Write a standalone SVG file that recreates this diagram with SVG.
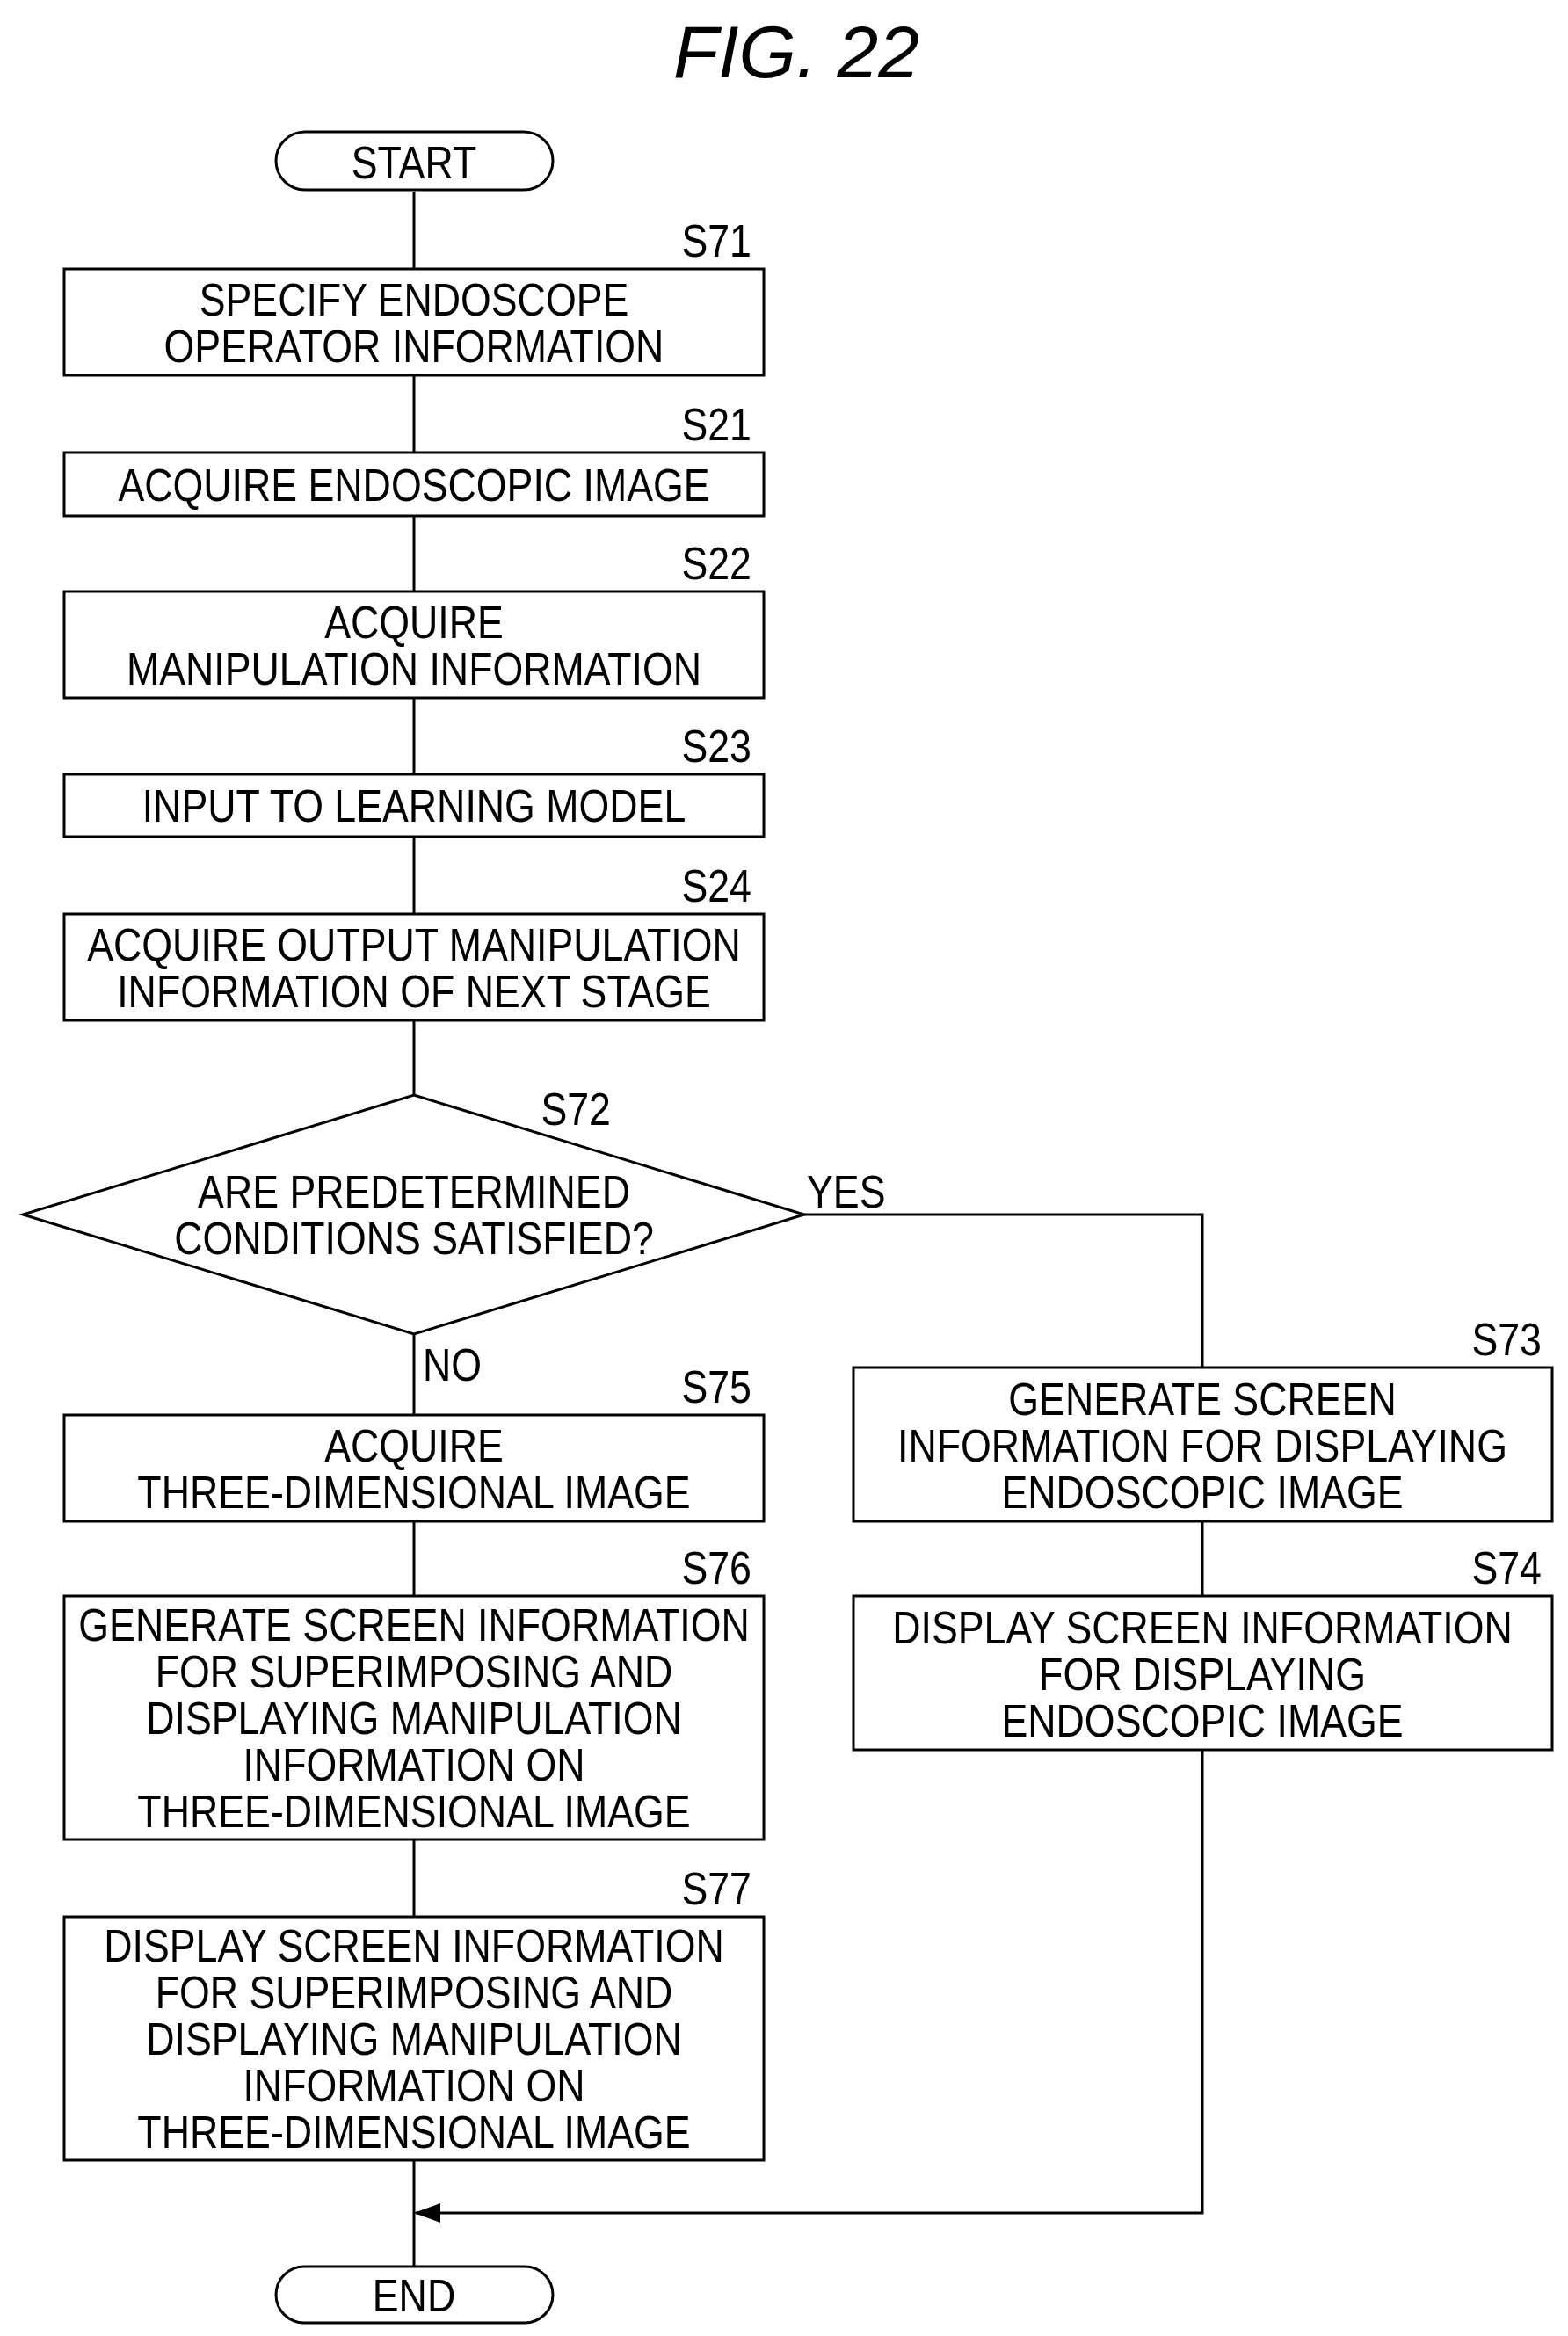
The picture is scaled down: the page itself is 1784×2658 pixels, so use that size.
<svg xmlns="http://www.w3.org/2000/svg" width="1784" height="2658" viewBox="0 0 1784 2658">
<style>
.b{fill:#fff;stroke:#000;stroke-width:3}
.c{fill:none;stroke:#000;stroke-width:3}
text{font-family:"Liberation Sans",Arial,sans-serif;font-size:52px;fill:#000}
.t{text-anchor:middle}
.s{text-anchor:end}
</style>
<defs><marker id="ah" markerWidth="14" markerHeight="10" refX="13" refY="5" orient="auto" markerUnits="userSpaceOnUse"><path d="M0,0 L14,5 L0,10 Z" fill="#000"/></marker></defs>
<rect width="1784" height="2658" fill="#fff"/>
<text x="906" y="88" class="t" style="font-size:84px;font-style:italic">FIG. 22</text>
<g id="connectors">
<path class="c" d="M471,218 V306 M471,427 V515 M471,587 V673 M471,794 V881 M471,952 V1040 M471,1161 V1246 M471,1518 V1610 M471,1731 V1816 M471,2093 V2181 M471,2458 V2579"/>
<path class="c" d="M915,1382 H1368 V1556 M1368,1731 V1816"/>
<path class="c" d="M1368,1991 V2518 H473" marker-end="url(#ah)"/>
<path d="M471,2518 L501,2507 L501,2529 Z" fill="#000"/>
</g>
<g id="start"><rect class="b" x="314" y="150" width="315" height="66" rx="33"/><text class="t" transform="translate(471,203) scale(0.86,1)">START</text></g>
<g id="s71"><rect class="b" x="73" y="306" width="796" height="121"/><text class="s" transform="translate(855,292) scale(0.86,1)">S71</text><text class="t" transform="translate(471,359) scale(0.86,1)">SPECIFY ENDOSCOPE</text><text class="t" transform="translate(471,412) scale(0.86,1)">OPERATOR INFORMATION</text></g>
<g id="s21"><rect class="b" x="73" y="515" width="796" height="72"/><text class="s" transform="translate(855,501) scale(0.86,1)">S21</text><text class="t" transform="translate(471,570) scale(0.86,1)">ACQUIRE ENDOSCOPIC IMAGE</text></g>
<g id="s22"><rect class="b" x="73" y="673" width="796" height="121"/><text class="s" transform="translate(855,659) scale(0.86,1)">S22</text><text class="t" transform="translate(471,726) scale(0.86,1)">ACQUIRE</text><text class="t" transform="translate(471,779) scale(0.86,1)">MANIPULATION INFORMATION</text></g>
<g id="s23"><rect class="b" x="73" y="881" width="796" height="71"/><text class="s" transform="translate(855,867) scale(0.86,1)">S23</text><text class="t" transform="translate(471,935) scale(0.86,1)">INPUT TO LEARNING MODEL</text></g>
<g id="s24"><rect class="b" x="73" y="1040" width="796" height="121"/><text class="s" transform="translate(855,1026) scale(0.86,1)">S24</text><text class="t" transform="translate(471,1093) scale(0.86,1)">ACQUIRE OUTPUT MANIPULATION</text><text class="t" transform="translate(471,1146) scale(0.86,1)">INFORMATION OF NEXT STAGE</text></g>
<g id="s72"><polygon class="b" points="471,1246 915,1382 471,1518 26,1382"/><text class="s" transform="translate(695,1280) scale(0.86,1)">S72</text><text class="t" transform="translate(471,1374) scale(0.86,1)">ARE PREDETERMINED</text><text class="t" transform="translate(471,1427) scale(0.86,1)">CONDITIONS SATISFIED?</text><text transform="translate(918,1374) scale(0.86,1)">YES</text><text transform="translate(481,1571) scale(0.86,1)">NO</text></g>
<g id="s75"><rect class="b" x="73" y="1610" width="796" height="121"/><text class="s" transform="translate(855,1596) scale(0.86,1)">S75</text><text class="t" transform="translate(471,1663) scale(0.86,1)">ACQUIRE</text><text class="t" transform="translate(471,1716) scale(0.86,1)">THREE-DIMENSIONAL IMAGE</text></g>
<g id="s76"><rect class="b" x="73" y="1816" width="796" height="277"/><text class="s" transform="translate(855,1802) scale(0.86,1)">S76</text><text class="t" transform="translate(471,1867) scale(0.86,1)">GENERATE SCREEN INFORMATION</text><text class="t" transform="translate(471,1920) scale(0.86,1)">FOR SUPERIMPOSING AND</text><text class="t" transform="translate(471,1973) scale(0.86,1)">DISPLAYING MANIPULATION</text><text class="t" transform="translate(471,2026) scale(0.86,1)">INFORMATION ON</text><text class="t" transform="translate(471,2079) scale(0.86,1)">THREE-DIMENSIONAL IMAGE</text></g>
<g id="s77"><rect class="b" x="73" y="2181" width="796" height="277"/><text class="s" transform="translate(855,2167) scale(0.86,1)">S77</text><text class="t" transform="translate(471,2232) scale(0.86,1)">DISPLAY SCREEN INFORMATION</text><text class="t" transform="translate(471,2285) scale(0.86,1)">FOR SUPERIMPOSING AND</text><text class="t" transform="translate(471,2338) scale(0.86,1)">DISPLAYING MANIPULATION</text><text class="t" transform="translate(471,2391) scale(0.86,1)">INFORMATION ON</text><text class="t" transform="translate(471,2444) scale(0.86,1)">THREE-DIMENSIONAL IMAGE</text></g>
<g id="s73"><rect class="b" x="971" y="1556" width="795" height="175"/><text class="s" transform="translate(1754,1542) scale(0.86,1)">S73</text><text class="t" transform="translate(1368,1610) scale(0.86,1)">GENERATE SCREEN</text><text class="t" transform="translate(1368,1663) scale(0.86,1)">INFORMATION FOR DISPLAYING</text><text class="t" transform="translate(1368,1716) scale(0.86,1)">ENDOSCOPIC IMAGE</text></g>
<g id="s74"><rect class="b" x="971" y="1816" width="795" height="175"/><text class="s" transform="translate(1754,1802) scale(0.86,1)">S74</text><text class="t" transform="translate(1368,1870) scale(0.86,1)">DISPLAY SCREEN INFORMATION</text><text class="t" transform="translate(1368,1923) scale(0.86,1)">FOR DISPLAYING</text><text class="t" transform="translate(1368,1976) scale(0.86,1)">ENDOSCOPIC IMAGE</text></g>
<g id="end"><rect class="b" x="314" y="2579" width="315" height="64" rx="32"/><text class="t" transform="translate(471,2630) scale(0.86,1)">END</text></g>
</svg>
